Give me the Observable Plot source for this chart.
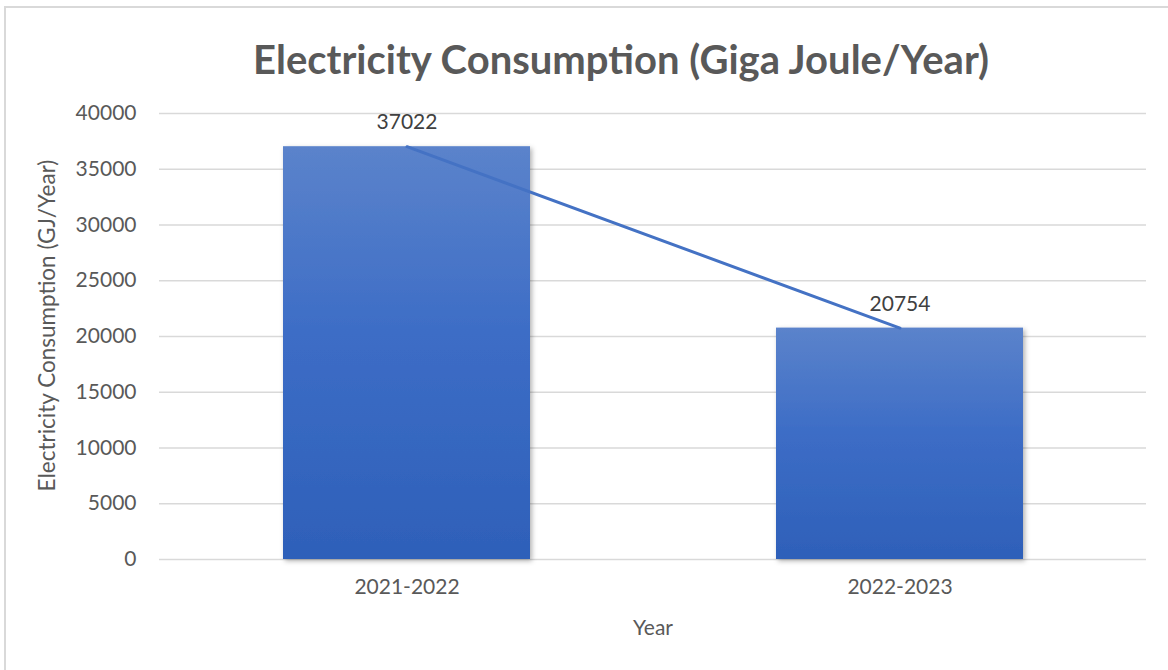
<!DOCTYPE html>
<html>
<head>
<meta charset="utf-8">
<script src="https://cdn.jsdelivr.net/npm/d3@7"></script>
<script src="https://cdn.jsdelivr.net/npm/@observablehq/plot@0.6"></script>
<style>
  html, body { margin: 0; padding: 0; background: #fff; }
  #wrap { position: relative; width: 1168px; height: 670px; overflow: hidden; background: #fff; font-family: Lato, "Open Sans", sans-serif; }
  #frame { position: absolute; left: 4px; top: 6px; width: 1200px; height: 700px; border-left: 2px solid #d9d9d9; border-top: 2px solid #d9d9d9; }
  #title { position: absolute; left: 0; top: 35px; width: 1242px; text-align: center; font-size: 40px; line-height: 48px; font-weight: bold; color: #595959; }
  #chart { position: absolute; left: 0; top: 95px; }
</style>
</head>
<body>
<div id="wrap">
  <div id="frame"></div>
  <div id="title">Electricity Consumption (Giga Joule/Year)</div>
  <div id="chart"></div>
</div>
<script>
const years = ["2021-2022", "2022-2023"];
const consumption = [37022, 20754];
const yTicks = [0, 5000, 10000, 15000, 20000, 25000, 30000, 35000, 40000];
const xTitle = "Year";
const yTitle = "Electricity Consumption (GJ/Year)";

const data = years.map((year, i) => ({year, value: consumption[i]}));

const gradientDefs = () => {
  const defs = d3.create("svg:defs");
  const g = defs.append("linearGradient").attr("id", "barGrad").attr("x1", 0).attr("y1", 0).attr("x2", 0).attr("y2", 1);
  g.append("stop").attr("offset", "0%").attr("stop-color", "#5B83CB");
  g.append("stop").attr("offset", "45%").attr("stop-color", "#3D6DC6");
  g.append("stop").attr("offset", "100%").attr("stop-color", "#2E60B9");
  const f = defs.append("filter").attr("id", "barShadow").attr("x", "-10%").attr("y", "-10%").attr("width", "130%").attr("height", "130%");
  f.append("feDropShadow").attr("dx", 2).attr("dy", 2).attr("stdDeviation", 2.5).attr("flood-color", "#000").attr("flood-opacity", 0.3);
  return defs.node();
};

const chart = Plot.plot({
  width: 1168,
  height: 575,
  marginTop: 18,
  marginBottom: 111,
  marginLeft: 159,
  marginRight: 22,
  style: {fontFamily: "Lato, 'Open Sans', sans-serif", fontSize: "21px", color: "#595959", background: "transparent", overflow: "visible"},
  x: {domain: years, paddingInner: 0.5, paddingOuter: 0.25, label: null},
  y: {domain: [0, 40000], label: null},
  marks: [
    gradientDefs,
    Plot.gridY(yTicks, {stroke: "#d9d9d9", strokeOpacity: 1, strokeWidth: 1.5}),
    Plot.axisY(yTicks, {tickSize: 0, tickPadding: 23, label: null, tickFormat: d => String(d), fill: "#595959"}),
    Plot.axisX({tickSize: 0, tickPadding: 20, label: null, fill: "#595959"}),
    Plot.barY(data, {x: "year", y: "value", fill: "url(#barGrad)"}),
    Plot.lineY(data, {x: "year", y: "value", stroke: "#4472C4", strokeWidth: 3}),
    Plot.text(data, {x: "year", y: "value", text: d => String(d.value), dy: -24, fill: "#404040", fontSize: 21}),
    Plot.text([xTitle], {frameAnchor: "bottom", lineAnchor: "middle", dy: 69, fill: "#595959", fontSize: 21}),
    Plot.text([yTitle], {frameAnchor: "left", textAnchor: "middle", lineAnchor: "middle", dx: -112, dy: -11, rotate: -90, fill: "#595959", fontSize: 22.5})
  ]
});
chart.querySelectorAll("g[aria-label='bar']").forEach(g => g.setAttribute("filter", "url(#barShadow)"));
document.getElementById("chart").appendChild(chart);
</script>
</body>
</html>
